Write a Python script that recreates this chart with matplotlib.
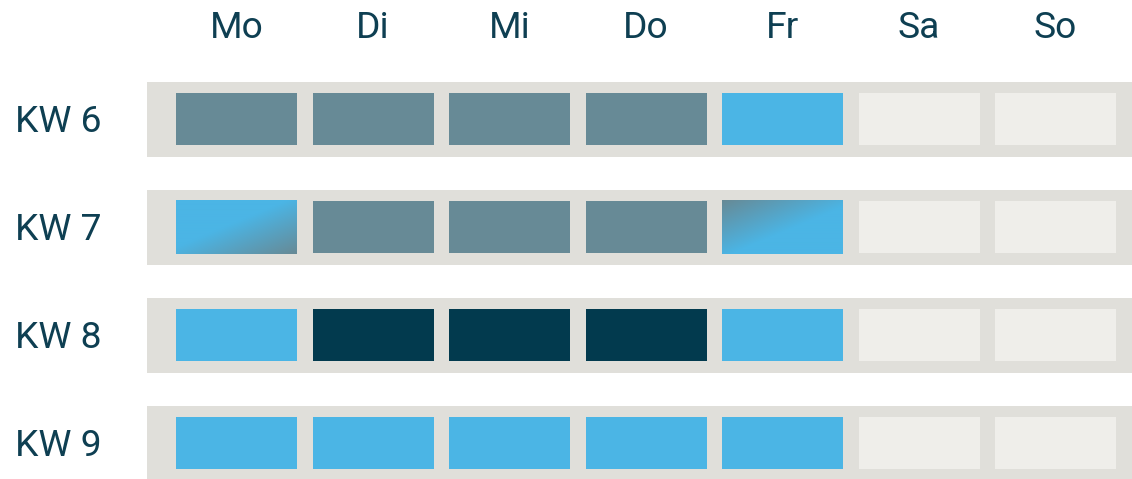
import matplotlib.pyplot as plt
import numpy as np
from matplotlib.colors import LinearSegmentedColormap
from matplotlib.patches import Rectangle

# data
days = ["Mo", "Di", "Mi", "Do", "Fr", "Sa", "So"]
weeks = ["KW 6", "KW 7", "KW 8", "KW 9"]
# g = grau, b = blau, d = dunkel, w = Wochenende, bg / gb = Übergang
status = [
    ["g", "g", "g", "g", "b", "w", "w"],
    ["bg", "g", "g", "g", "gb", "w", "w"],
    ["b", "d", "d", "d", "b", "w", "w"],
    ["b", "b", "b", "b", "b", "w", "w"],
]

colors = {"g": "#678A96", "b": "#4BB5E5", "d": "#023A4E", "w": "#EFEEEA"}
band_color = "#E0DFDA"
text_color = "#0E3F52"

plt.rcParams["font.family"] = ["Roboto", "DejaVu Sans"]

fig = plt.figure(figsize=(11.32, 4.79), dpi=100)
ax = fig.add_axes([0, 0, 1, 1])
ax.set_xlim(0, 1132)
ax.set_ylim(479, 0)
ax.axis("off")

x0, dx, cw = 176, 136.5, 121
y0, dy, ch = 93, 108, 52

def gradient(c1, c2, start, stop):
    h, w = 53, 121
    yy, xx = np.mgrid[0:h, 0:w]
    t = 35 * xx + 85 * yy
    t = t / t.max()
    t = np.clip((t - start) / (stop - start), 0, 1)
    return t, LinearSegmentedColormap.from_list("tr", [c1, c2])

for r, week in enumerate(weeks):
    yb = y0 + r * dy
    ax.add_patch(Rectangle((147, yb - 11), 1132 - 147, 75, color=band_color, lw=0))
    ax.text(15, yb + ch / 2 + 3, week, fontsize=26.8, color=text_color,
            ha="left", va="center")
    for c, s in enumerate(status[r]):
        xl = x0 + c * dx
        if s in colors:
            ax.add_patch(Rectangle((xl, yb), cw, ch, color=colors[s], lw=0))
        elif s == "bg":
            t, cm = gradient(colors["b"], colors["g"], 0.45, 1.0)
            ax.imshow(t, cmap=cm, extent=(xl, xl + cw, yb + ch + 1, yb),
                      aspect="auto", interpolation="bilinear", zorder=2)
        elif s == "gb":
            t, cm = gradient(colors["g"], colors["b"], 0.0, 0.55)
            ax.imshow(t, cmap=cm, extent=(xl, xl + cw, yb + ch + 1, yb),
                      aspect="auto", interpolation="bilinear", zorder=2)

for c, day in enumerate(days):
    ax.text(x0 + c * dx + cw / 2, 28, day, fontsize=26.8, color=text_color,
            ha="center", va="center")

ax.set_xlim(0, 1132)
ax.set_ylim(479, 0)

fig.savefig("out.png", dpi=100)
